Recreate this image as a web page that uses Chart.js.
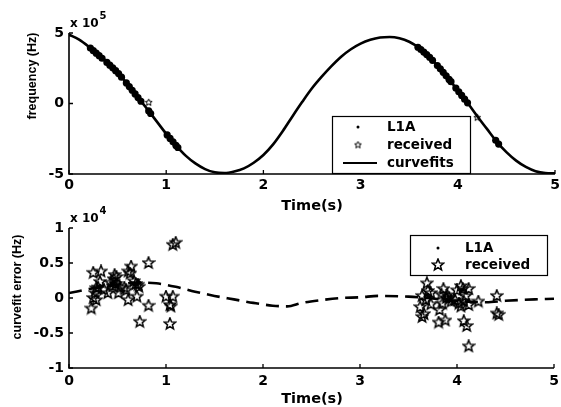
<!DOCTYPE html>
<html>
<head>
<meta charset="utf-8">
<script src="https://cdn.jsdelivr.net/npm/chart.js@4.4.1/dist/chart.umd.min.js"></script>
<style>
  html,body{margin:0;padding:0;background:#fff;}
  #wrap{position:relative;width:561px;height:407px;overflow:hidden;background:#fff;}
  canvas{position:absolute;left:0;}
</style>
</head>
<body>
<div id="wrap">
  <canvas id="top" width="561" height="215" style="top:0px"></canvas>
  <canvas id="bot" width="561" height="207" style="top:200px"></canvas>
</div>
<script>
// ---------------- DATA ----------------
// Top panel: frequency (units of 1e5 Hz)
const timeCurve = [0,0.1,0.2,0.3,0.4,0.5,0.6,0.7,0.8,0.9,1.0,1.1,1.2,1.3,1.4,1.5,1.6,1.7,1.8,1.9,2.0,2.1,2.2,2.3,2.4,2.5,2.6,2.7,2.8,2.9,3.0,3.1,3.2,3.3,3.4,3.5,3.6,3.7,3.8,3.9,4.0,4.1,4.2,4.3,4.4,4.5,4.6,4.7,4.8,4.9,5.0];
const freqCurve = [4.88,4.55,4.05,3.45,2.85,2.2,1.38,0.5,-0.35,-1.25,-2.15,-2.97,-3.7,-4.25,-4.65,-4.88,-4.93,-4.82,-4.6,-4.2,-3.65,-2.9,-1.95,-0.9,0.12,1.08,1.9,2.65,3.32,3.85,4.25,4.52,4.68,4.72,4.63,4.38,3.95,3.35,2.62,1.8,0.92,0.05,-0.9,-1.8,-2.7,-3.45,-4.05,-4.5,-4.8,-4.93,-4.95];
const l1aTopT = [0.22,0.25,0.28,0.31,0.34,0.39,0.42,0.45,0.48,0.51,0.54,0.59,0.62,0.65,0.68,0.71,0.74,0.82,0.84,1.01,1.04,1.07,1.10,1.12,3.59,3.62,3.65,3.68,3.71,3.74,3.79,3.82,3.85,3.88,3.91,3.93,3.98,4.01,4.04,4.07,4.10,4.39,4.42];
const l1aTopF = [3.93,3.75,3.57,3.39,3.21,2.91,2.72,2.53,2.33,2.12,1.87,1.46,1.20,0.94,0.68,0.42,0.16,-0.53,-0.71,-2.23,-2.48,-2.72,-2.97,-3.12,3.99,3.83,3.65,3.47,3.28,3.06,2.69,2.46,2.21,1.96,1.71,1.55,1.10,0.83,0.57,0.31,0.05,-2.61,-2.88];
const recvTopT = [0.82,4.20];
const recvTopF = [0.07,-1.0];
const freqTicks = [-5,0,5];

// Bottom panel: curvefit error (units of 1e4 Hz)
const errCurveT = [0,0.25,0.5,0.7,0.9,1.1,1.3,1.5,1.7,1.9,2.1,2.25,2.4,2.6,2.8,3.0,3.2,3.5,3.7,4.0,4.3,4.5,4.8,5.0];
const errCurveV = [0.07,0.14,0.19,0.22,0.21,0.16,0.09,0.03,-0.02,-0.07,-0.11,-0.12,-0.07,-0.03,0.0,0.01,0.03,0.02,0.0,-0.04,-0.06,-0.04,-0.02,-0.01];
const recvErrT = [0.23,0.25,0.33,0.27,0.28,0.32,0.28,0.30,0.25,0.40,0.43,0.46,0.45,0.47,0.49,0.48,0.51,0.53,0.57,0.59,0.61,0.64,0.63,0.61,0.67,0.70,0.72,0.69,0.71,0.73,0.82,0.82,1.00,1.04,1.07,1.05,1.04,1.07,1.10,0.36,
                  3.69,3.64,3.68,3.62,3.66,3.64,3.73,3.73,3.70,3.86,3.84,3.89,3.85,3.94,3.82,3.81,3.88,3.90,3.92,4.00,4.06,4.12,4.04,4.02,4.04,4.07,4.12,4.07,4.10,4.12,4.22,4.41,4.41,4.43,3.98,4.09];
const recvErrV = [-0.15,0.36,0.38,0.07,-0.03,0.23,0.14,0.15,0.0,0.07,0.22,0.27,0.17,0.33,0.30,0.20,0.07,0.15,0.15,0.11,0.38,0.45,0.35,-0.03,0.24,0.02,0.16,0.20,0.19,-0.34,0.50,-0.11,0.02,-0.10,0.02,-0.12,-0.37,0.76,0.79,0.12,
                  0.21,0.03,-0.03,-0.13,-0.23,-0.27,0.07,-0.09,0.10,0.13,0.05,0.0,-0.08,-0.05,-0.17,-0.35,-0.32,0.04,0.0,0.11,0.13,0.13,0.17,-0.08,-0.12,-0.05,-0.10,-0.33,-0.40,-0.69,-0.05,0.03,-0.22,-0.24,-0.03,0.03];
const l1aErrT = [0.43,0.45,0.47,0.50,0.68,0.70,3.70,3.72,3.87,3.89,3.91,4.04,4.06];
const l1aErrV = [0.18,0.20,0.22,0.17,0.19,0.20,0.05,0.02,0.03,0.06,0.02,0.10,0.12];
const errTicks = [-1,-0.5,0,0.5,1];
const timeTicks = [0,1,2,3,4,5];

// ---------------- HELPERS ----------------
function makeStar(size, R, r, lw){
  const c = document.createElement('canvas');
  c.width = size; c.height = size;
  const g = c.getContext('2d');
  const cx = size/2, cy = size/2;
  g.beginPath();
  for(let i=0;i<10;i++){
    const ang = -Math.PI/2 + i*Math.PI/5;
    const rad = (i%2===0)?R:r;
    const x = cx + rad*Math.cos(ang), y = cy + rad*Math.sin(ang);
    if(i===0) g.moveTo(x,y); else g.lineTo(x,y);
  }
  g.closePath();
  g.strokeStyle = '#000'; g.lineWidth = lw; g.lineJoin='miter';
  g.stroke();
  return c;
}
const bigStar = makeStar(14, 6.0, 2.6, 1.5);
const smallStar = makeStar(9, 3.6, 1.6, 1.0);

const pts = (xs, ys) => xs.map((x,i)=>({x:x, y:ys[i]}));
const TICK_FONT = {family:'DejaVu Sans', size:14, weight:'bold'};
const fmt = v => String(Math.round(v*100)/100);

function decoPlugin(cfg){
  return {
    id:'deco',
    afterDraw(chart){
      const ctx = chart.ctx, a = chart.chartArea;
      const xs = chart.scales.x, ys = chart.scales.y;
      ctx.save();
      ctx.strokeStyle = '#000'; ctx.fillStyle = '#000';
      ctx.lineWidth = 1.6;
      ctx.beginPath();
      ctx.moveTo(a.left, a.top); ctx.lineTo(a.left, a.bottom); ctx.lineTo(a.right, a.bottom);
      ctx.stroke();
      ctx.lineWidth = 1.3;
      ctx.beginPath();
      cfg.xTicks.forEach(v=>{ const px = xs.getPixelForValue(v); ctx.moveTo(px, a.bottom); ctx.lineTo(px, a.bottom-4); });
      cfg.yTicks.forEach(v=>{ const py = ys.getPixelForValue(v); ctx.moveTo(a.left, py); ctx.lineTo(a.left+4, py); });
      ctx.stroke();
      // exponent label
      ctx.textAlign = 'left'; ctx.textBaseline = 'alphabetic';
      ctx.font = 'bold 12px "DejaVu Sans"';
      ctx.fillText('x 10', cfg.exp.x, cfg.exp.y);
      const w = ctx.measureText('x 10').width;
      ctx.font = 'bold 10px "DejaVu Sans"';
      ctx.fillText(cfg.exp.t, cfg.exp.x + w + 1, cfg.exp.y - 8);
      // y title (rotated)
      ctx.save();
      ctx.translate(cfg.yTitle.x, cfg.yTitle.y);
      ctx.rotate(-Math.PI/2);
      ctx.font = 'bold 12.5px "Liberation Sans"';
      ctx.textAlign = 'center'; ctx.textBaseline = 'middle';
      ctx.fillText(cfg.yTitle.t, 0, 0);
      ctx.restore();
      // x title
      ctx.font = 'bold 14.5px "DejaVu Sans"';
      ctx.textAlign = 'center'; ctx.textBaseline = 'middle';
      ctx.fillText(cfg.xTitle.t, cfg.xTitle.x, cfg.xTitle.y);
      // legend
      const L = cfg.legend;
      ctx.fillStyle = '#fff';
      ctx.fillRect(L.box[0], L.box[1], L.box[2]-L.box[0], L.box[3]-L.box[1]);
      ctx.lineWidth = 1.2; ctx.strokeStyle = '#000';
      ctx.strokeRect(L.box[0]+0.5, L.box[1]+0.5, L.box[2]-L.box[0], L.box[3]-L.box[1]);
      ctx.fillStyle = '#000';
      ctx.font = 'bold 13.5px "DejaVu Sans"';
      ctx.textAlign = 'left'; ctx.textBaseline = 'middle';
      L.rows.forEach(r=>{
        if(r.type==='dot'){
          ctx.beginPath(); ctx.arc(L.mx, r.y, 1.5, 0, Math.PI*2); ctx.fill();
        } else if(r.type==='star'){
          ctx.drawImage(r.img, L.mx - r.img.width/2, r.y - r.img.height/2);
        } else if(r.type==='line'){
          ctx.lineWidth = 2; ctx.beginPath(); ctx.moveTo(L.lx1, r.y); ctx.lineTo(L.lx2, r.y); ctx.stroke();
        }
        ctx.fillText(r.label, L.tx, r.y);
      });
      ctx.restore();
    }
  };
}

function baseOptions(ymin, ymax, ystep, padTop, xH, xPad){
  return {
    responsive:false, devicePixelRatio:1, animation:false, events:[],
    layout:{padding:{left:0, right:6, top:padTop, bottom:0}},
    plugins:{legend:{display:false}, tooltip:{enabled:false}},
    scales:{
      x:{type:'linear', min:0, max:5,
         ticks:{stepSize:1, color:'#000', font:TICK_FONT, padding:xPad, maxRotation:0, callback:fmt},
         grid:{display:false, drawTicks:false}, border:{display:false},
         afterFit(s){ s.height = xH; s.paddingLeft = 0; s.paddingRight = 0; }},
      y:{type:'linear', min:ymin, max:ymax,
         ticks:{stepSize:ystep, color:'#000', font:TICK_FONT, padding:5, callback:fmt},
         grid:{display:false, drawTicks:false}, border:{display:false},
         afterFit(s){ s.width = 69; s.paddingTop = 0; s.paddingBottom = 0; }}
    }
  };
}

// ---------------- TOP CHART ----------------
new Chart(document.getElementById('top'), {
  type:'scatter',
  data:{datasets:[
    {label:'L1A', data:pts(l1aTopT,l1aTopF), showLine:false, pointRadius:3.6, pointStyle:'circle', backgroundColor:'#000', borderWidth:0},
    {label:'received', data:pts(recvTopT,recvTopF), showLine:false, pointStyle:smallStar, pointRadius:4},
    {label:'curvefits', data:pts(timeCurve,freqCurve), showLine:true, borderColor:'#000', borderWidth:2.6, pointRadius:0, cubicInterpolationMode:'monotone', fill:false}
  ]},
  options: baseOptions(-5,5,5,33,41,3),
  plugins:[decoPlugin({
    xTicks:timeTicks, yTicks:freqTicks,
    exp:{x:70, y:27, t:'5'},
    yTitle:{x:33, y:76, t:'frequency (Hz)'},
    xTitle:{x:312, y:206, t:'Time(s)'},
    legend:{box:[332,116,470,173], mx:358, tx:387, lx1:343, lx2:377,
      rows:[{type:'dot',label:'L1A',y:127},{type:'star',img:smallStar,label:'received',y:145},{type:'line',label:'curvefits',y:163}]}
  })]
});

// ---------------- BOTTOM CHART ----------------
new Chart(document.getElementById('bot'), {
  type:'scatter',
  data:{datasets:[
    {label:'L1A', data:pts(l1aErrT,l1aErrV), showLine:false, pointRadius:1.6, pointStyle:'circle', backgroundColor:'#000', borderWidth:0},
    {label:'received', data:pts(recvErrT,recvErrV), showLine:false, pointStyle:bigStar, pointRadius:6},
    {label:'curvefit error', data:pts(errCurveT,errCurveV), showLine:true, borderColor:'#000', borderWidth:2.6, borderDash:[13,7], pointRadius:0, cubicInterpolationMode:'monotone', fill:false}
  ]},
  options: baseOptions(-1,1,0.5,28,39,5),
  plugins:[decoPlugin({
    xTicks:timeTicks, yTicks:errTicks,
    exp:{x:70, y:22, t:'4'},
    yTitle:{x:18, y:87, t:'curvefit error (Hz)'},
    xTitle:{x:312, y:199, t:'Time(s)'},
    legend:{box:[410,35,547,75], mx:438, tx:465, lx1:0, lx2:0,
      rows:[{type:'dot',label:'L1A',y:48},{type:'star',img:bigStar,label:'received',y:65}]}
  })]
});
</script>
</body>
</html>
